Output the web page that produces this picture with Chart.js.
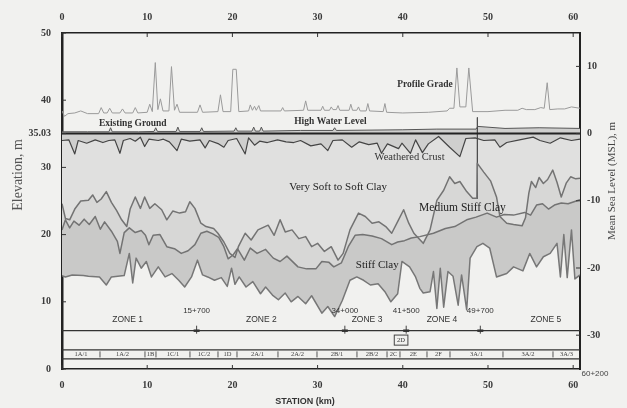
<!DOCTYPE html>
<html lang="en">
<head>
<meta charset="UTF-8">
<title>Soil Profile Along Station</title>
<script src="https://cdn.jsdelivr.net/npm/chart.js"></script>
<style>
  body { margin: 0; background: #f1f1ef; }
  canvas { display: block; }
</style>
</head>
<body>
<canvas id="profileChart" width="627" height="408"></canvas>
<script>
// axis ticks
const stationTicks = [0, 10, 20, 30, 40, 50, 60];
const elevTicks = [0, 10, 20, 30, 35.03, 40, 50];
const mslTicks = [-30, -20, -10, 0, 10];
const mslDatum = 35.03;   // elevation of MSL 0 = high water level

// station (km) / elevation (m)
const profileKm = [0, 0.3, 0.7, 1.5, 2.2, 3.0, 4.3, 4.6, 4.9, 5.3, 5.6, 5.9, 6.8, 7.1, 7.4, 8.3, 8.6, 8.9, 10.0, 10.3, 10.6, 10.95, 11.25, 11.55, 11.85, 12.55, 12.85, 13.2, 13.5, 13.8, 15.9, 16.2, 16.5, 18.3, 18.6, 18.9, 19.8, 20.05, 20.45, 20.75, 21.9, 22.1, 22.35, 22.6, 22.8, 23.1, 23.3, 25.7, 25.9, 26.1, 28.35, 28.6, 28.85, 30.4, 30.6, 30.8, 31.4, 31.6, 31.8, 32.2, 32.4, 32.6, 33.7, 33.9, 34.1, 34.6, 34.8, 35.0, 35.7, 35.9, 36.1, 37.7, 37.9, 38.1, 40, 43, 45.2, 45.5, 46.0, 46.35, 46.7, 47.4, 47.75, 48.2, 50, 52, 53.5, 54.0, 54.5, 55.5, 56.2, 56.6, 56.95, 57.25, 58.2, 59, 59.8, 60.8];
const profileElev = [38.4, 37.6, 38.0, 38.1, 38.4, 38.0, 38.0, 38.9, 38.1, 38.1, 38.8, 38.1, 38.1, 38.7, 38.1, 38.1, 38.9, 38.1, 38.2, 39.4, 38.3, 45.6, 38.6, 40.2, 38.4, 38.4, 45.0, 38.5, 39.4, 38.2, 38.2, 39.3, 38.2, 38.3, 40.8, 38.3, 38.3, 44.6, 44.6, 38.3, 38.4, 39.3, 38.5, 39.1, 38.5, 39.2, 38.4, 38.4, 38.9, 38.4, 38.5, 39.9, 38.5, 38.5, 39.1, 38.5, 38.5, 39.0, 38.6, 38.6, 39.2, 38.5, 38.5, 39.4, 38.5, 38.5, 39.0, 38.4, 38.4, 39.5, 38.4, 38.3, 39.5, 38.2, 38.1, 38.2, 38.4, 38.8, 38.8, 44.8, 39.0, 39.0, 44.8, 38.3, 38.3, 38.5, 38.5, 38.8, 38.6, 38.6, 38.9, 38.8, 42.6, 38.6, 38.7, 38.7, 39.0, 38.8];

const groundKm = [0, 3, 5.5, 5.7, 5.9, 9, 10.8, 11.0, 11.2, 13.4, 13.6, 13.8, 16.2, 16.4, 16.6, 20.2, 20.4, 20.6, 22.3, 22.5, 22.7, 23.2, 23.4, 23.6, 28, 31.8, 32.0, 32.2, 40, 44, 48.6, 48.8, 52, 56, 60.8];
const groundElev = [35.3, 35.3, 35.3, 35.9, 35.3, 35.3, 35.35, 35.9, 35.35, 35.35, 36.0, 35.35, 35.35, 35.9, 35.35, 35.4, 35.9, 35.4, 35.4, 36.0, 35.4, 35.4, 36.0, 35.4, 35.5, 35.5, 35.9, 35.5, 35.6, 35.7, 35.7, 36.1, 35.8, 35.9, 35.8];

const crustKm = [0, 0.8, 1.5, 1.9, 2.9, 3.9, 4.8, 5.5, 6.2, 6.8, 7.2, 8.0, 8.6, 9.2, 9.7, 10.2, 11.3, 11.9, 12.6, 13.5, 14.0, 15.0, 16.2, 16.8, 17.3, 18.4, 19.0, 19.5, 20.5, 21.5, 21.9, 22.6, 23.2, 24.1, 25.3, 26.3, 27.2, 28.0, 29.2, 30.4, 31.2, 31.8, 32.9, 34.0, 34.9, 36.0, 37.0, 37.5, 38.2, 39.5, 39.9, 40.9, 41.5, 42.3, 43.0, 44.2, 45.5, 46.7, 47.4, 48.5, 49.5, 50.8, 51.4, 52.2, 53.7, 55.3, 56.1, 57.3, 58.5, 59.8, 60.8];
const crustElev = [34.0, 34.1, 32.0, 34.0, 33.6, 34.1, 33.7, 34.0, 34.1, 32.1, 34.0, 34.3, 33.9, 34.5, 33.1, 34.2, 34.0, 34.2, 33.8, 32.5, 34.2, 33.9, 34.1, 32.9, 34.0, 33.5, 33.0, 34.0, 34.3, 32.0, 34.4, 33.3, 33.9, 33.7, 34.1, 33.8, 33.7, 34.0, 33.2, 33.5, 32.5, 34.0, 34.1, 33.0, 33.8, 33.4, 33.6, 32.1, 33.5, 32.8, 33.6, 32.1, 34.1, 32.2, 33.5, 34.6, 33.0, 31.6, 34.3, 34.4, 34.0, 34.1, 33.0, 33.7, 34.1, 34.5, 34.0, 33.6, 34.4, 34.0, 34.2];

// top of medium stiff clay
const topKm = [0, 0.4, 0.9, 1.5, 2.2, 3.1, 3.6, 4.1, 4.6, 5.2, 5.8, 6.4, 7.0, 7.6, 8.0, 8.6, 9.2, 9.7, 10.3, 10.9, 11.7, 12.3, 13.0, 13.8, 14.5, 15.0, 15.6, 16.3, 16.9, 17.8, 18.3, 19.0, 19.7, 20.3, 20.7, 21.5, 22.2, 23.0, 24.2, 24.9, 25.6, 26.2, 27.0, 27.8, 28.6, 29.3, 30.0, 30.8, 31.6, 32.4, 33.0, 33.8, 34.8, 35.6, 36.4, 37.2, 38.0, 38.7, 39.5, 40.1, 40.7, 41.3, 42.4, 43.2, 44.0, 44.8, 45.5, 46.1, 46.7, 47.5, 48.2, 48.7, 48.75, 49.5, 50.3, 51.0, 51.4, 52.2, 53.0, 54.0, 54.4, 54.8, 55.1, 55.6, 56.0, 56.5, 57.0, 57.6, 58.1, 58.6, 59.2, 59.7, 60.3, 60.8];
const topElev = [24.6, 22.4, 22.2, 23.8, 25.0, 25.1, 25.9, 24.8, 25.3, 26.4, 24.8, 23.6, 22.2, 21.2, 23.8, 25.6, 23.9, 25.6, 23.9, 24.6, 23.7, 22.2, 23.5, 23.2, 23.4, 24.9, 23.9, 21.7, 21.2, 20.9, 20.2, 18.9, 17.2, 16.6, 18.2, 20.2, 19.2, 20.7, 21.4, 19.9, 22.2, 20.4, 20.7, 19.4, 19.7, 18.2, 18.7, 17.5, 18.2, 16.2, 17.2, 20.7, 23.2, 22.7, 21.7, 21.9, 21.2, 20.2, 22.2, 23.7, 21.7, 20.2, 18.7, 20.7, 25.1, 26.6, 28.6, 27.6, 27.9, 26.4, 25.4, 25.4, 30.6, 29.3, 28.0, 25.6, 22.7, 21.7, 21.5, 21.3, 22.5, 26.2, 27.9, 27.0, 28.5, 27.6, 28.2, 29.6, 27.8, 25.6, 27.7, 28.6, 28.3, 28.4];

// top of stiff clay
const midKm = [0, 0.4, 0.9, 1.4, 2.0, 2.6, 3.2, 3.9, 4.5, 5.0, 5.8, 6.5, 6.8, 7.3, 7.9, 8.6, 9.3, 9.8, 10.2, 10.7, 11.5, 12.3, 13.2, 14.0, 14.8, 15.6, 16.3, 17.0, 17.7, 18.4, 19.0, 19.5, 20.1, 20.6, 21.4, 22.1, 22.9, 23.9, 24.8, 25.6, 26.4, 27.7, 28.7, 29.8, 30.5, 31.3, 31.9, 32.8, 33.6, 34.4, 35.3, 36.4, 37.5, 38.7, 39.4, 40.2, 41.0, 42.0, 43.6, 45.0, 46.1, 47.5, 48.6, 49.9, 51.0, 51.9, 53.0, 54.3, 55.0, 55.7, 56.4, 57.1, 57.8, 58.6, 59.4, 60.1, 60.8];
const midElev = [20.7, 22.2, 21.0, 22.0, 21.4, 22.3, 21.5, 22.7, 20.8, 21.9, 20.5, 19.0, 17.2, 20.3, 21.0, 20.3, 20.6, 19.9, 18.5, 19.9, 20.0, 18.2, 17.9, 17.2, 17.6, 18.5, 20.2, 20.5, 20.1, 19.6, 18.2, 16.4, 17.0, 17.9, 16.2, 18.0, 17.2, 17.8, 16.5, 16.0, 16.8, 15.2, 14.9, 14.9, 16.0, 15.9, 15.2, 15.8, 18.2, 19.9, 20.0, 19.8, 19.4, 18.5, 18.9, 19.1, 19.5, 19.7, 20.2, 20.9, 21.2, 22.2, 22.6, 23.2, 22.6, 23.0, 22.9, 23.3, 22.9, 24.4, 24.6, 23.8, 24.4, 24.7, 24.6, 24.9, 25.2];

// bottom of stiff clay
const botKm = [0, 0.4, 1.2, 2.5, 3.1, 4.4, 5.2, 5.8, 7.3, 7.9, 8.3, 8.7, 9.3, 9.9, 10.5, 11.3, 12.1, 12.9, 13.7, 14.4, 15.2, 15.9, 16.5, 17.1, 17.9, 18.7, 19.4, 19.9, 20.3, 20.8, 21.6, 22.4, 23.3, 23.9, 24.7, 25.4, 26.2, 26.9, 27.7, 28.6, 29.3, 30.5, 31.2, 32.0, 32.9, 33.8, 34.6, 35.4, 36.2, 37.1, 37.9, 38.6, 39.4, 39.9, 40.8, 41.5, 42.0, 42.4, 43.2, 43.6, 44.0, 44.4, 44.8, 45.3, 45.9, 46.5, 46.9, 47.5, 47.9, 48.7, 49.4, 50.2, 51.0, 52.2, 53.0, 54.1, 54.9, 55.7, 56.5, 57.3, 58.1, 58.5, 58.9, 59.3, 59.8, 60.2, 60.8];
const botElev = [13.9, 13.7, 14.0, 13.9, 13.8, 13.7, 12.5, 13.7, 13.9, 17.2, 12.8, 16.5, 15.0, 16.0, 13.7, 15.2, 13.7, 14.2, 13.2, 12.2, 13.7, 16.2, 14.0, 13.7, 13.2, 13.6, 12.3, 15.0, 12.6, 13.7, 12.2, 13.0, 11.2, 12.2, 11.0, 10.3, 11.3, 10.0, 10.8, 9.7, 10.9, 8.3, 9.3, 7.8, 10.2, 13.2, 13.7, 13.2, 12.5, 12.7, 11.5, 10.0, 11.2, 16.0, 15.2, 13.7, 12.0, 11.3, 11.5, 14.5, 9.0, 15.0, 9.2, 14.5, 13.8, 9.5, 14.0, 8.8, 16.5, 18.2, 18.7, 18.0, 13.7, 14.2, 15.2, 14.6, 17.2, 15.2, 16.7, 17.2, 18.7, 13.7, 20.0, 13.6, 20.7, 13.4, 14.0];

const boreKm = [48.75, 48.75];
const boreElev = [37.4, 25.4];
const hwlKm = [0, 60.8];
const hwlElev = [35.03, 35.03];

// zones and design units
const zoneLineElev = 5.7;
const zoneNames = ['ZONE 1', 'ZONE 2', 'ZONE 3', 'ZONE 4', 'ZONE 5'];
const zoneBreakLabels = ['15+700', '34+000', '41+500', '49+700'];
const zoneBreakKm = [15.8, 33.2, 40.4, 49.1];
const unitNames = ['1A/1', '1A/2', '1B', '1C/1', '1C/2', '1D', '2A/1', '2A/2', '2B/1', '2B/2', '2C', '2E', '2F', '3A/1', '3A/2', '3A/3'];
const unitBreakKm = [4.46, 9.74, 11.03, 15.02, 18.31, 20.54, 25.35, 29.93, 34.62, 38.15, 39.67, 42.84, 45.54, 51.76, 57.63];
const rowTopElev = 2.85;
const rowBottomElev = 1.5;

const pts = (xs, ys) => xs.map((v, i) => ({ x: v, y: ys[i] }));

function series(label, xs, ys, color, width, fillTarget, fillColor) {
  return {
    label,
    data: pts(xs, ys),
    xAxisID: 'x',
    yAxisID: 'y',
    borderColor: color,
    borderWidth: width,
    borderJoinStyle: 'round',
    pointRadius: 0,
    tension: 0,
    backgroundColor: fillColor || 'transparent',
    fill: fillTarget === undefined ? false : { target: fillTarget, above: fillColor, below: fillColor }
  };
}

const overlay = {
  id: 'overlay',
  afterDraw(chart) {
    const { ctx, chartArea: area, scales } = chart;
    const X = v => scales.x.getPixelForValue(v);
    const Y = v => scales.y.getPixelForValue(v);
    const seg = (x1, y1, x2, y2, color, w) => {
      ctx.beginPath(); ctx.strokeStyle = color; ctx.lineWidth = w;
      ctx.moveTo(x1, y1); ctx.lineTo(x2, y2); ctx.stroke();
    };
    const label = (t, x, y, font, color, rot) => {
      ctx.save();
      ctx.translate(x, y);
      if (rot) ctx.rotate(rot);
      ctx.font = font; ctx.fillStyle = color;
      ctx.textAlign = 'center'; ctx.textBaseline = 'middle';
      ctx.fillText(t, 0, 0);
      ctx.restore();
    };
    ctx.save();

    // inward tick marks
    stationTicks.forEach(t => {
      seg(X(t), area.top, X(t), area.top + 4, '#333', 1);
      seg(X(t), area.bottom, X(t), area.bottom - 4, '#333', 1);
    });
    elevTicks.forEach(t => seg(area.left, Y(t), area.left + 4, Y(t), '#333', 1));
    mslTicks.forEach(t => seg(area.right, Y(t + mslDatum), area.right - 4, Y(t + mslDatum), '#333', 1));

    // layer names
    const serif = 'Liberation Serif';
    label('Profile Grade', X(42.6), Y(42.3), 'bold 9.5px ' + serif, '#333');
    label('Existing Ground', X(8.3), Y(36.6), 'bold 9.5px ' + serif, '#333');
    label('High Water Level', X(31.5), Y(36.8), 'bold 9.5px ' + serif, '#333');
    label('Weathered Crust', X(40.8), Y(31.5), '10.5px ' + serif, '#333');
    label('Very Soft to Soft Clay', X(32.4), Y(27.1), '11px ' + serif, '#222');
    label('Medium Stiff Clay', X(47.0), Y(24.0), '11.5px ' + serif, '#222');
    label('Stiff Clay', X(37.0), Y(15.5), '11px ' + serif, '#222');

    // zone line with chainage markers
    const zy = Y(zoneLineElev);
    seg(area.left, zy, area.right, zy, '#333', 1.2);
    const sans = 'Liberation Sans';
    zoneBreakKm.forEach((k, i) => {
      seg(X(k), zy - 5, X(k), zy + 3, '#444', 1);
      seg(X(k) - 3, zy, X(k) + 3, zy, '#333', 2.5);
      label(zoneBreakLabels[i], X(k), zy - 20, '8px ' + sans, '#333');
    });
    const zoneNameKm = [7.7, 23.4, 35.8, 44.6, 56.8];
    zoneNames.forEach((n, i) => label(n, X(zoneNameKm[i]), zy - 11, '8.5px ' + sans, '#333'));

    // 2D unit box
    ctx.strokeStyle = '#444'; ctx.lineWidth = 1;
    ctx.strokeRect(X(39.0), Y(5.05), X(40.6) - X(39.0), Y(3.55) - Y(5.05));
    label('2D', X(39.8), Y(4.3), '6.5px ' + serif, '#333');

    // design unit row
    const ty = Y(rowTopElev), by = Y(rowBottomElev);
    seg(area.left, ty, area.right, ty, '#333', 1.2);
    seg(area.left, by, area.right, by, '#333', 1.2);
    unitBreakKm.forEach(k => seg(X(k), ty + 1.5, X(k), by - 1.5, '#555', 1));
    const edges = [0, ...unitBreakKm, 60.8];
    unitNames.forEach((n, i) => label(n, X((edges[i] + edges[i + 1]) / 2), (ty + by) / 2, '6.5px ' + serif, '#444'));

    // axis titles
    label('Elevation, m', 18, 175, '14px ' + serif, '#555', -Math.PI / 2);
    label('Mean Sea Level (MSL), m', 612, 181, '11px ' + serif, '#444', -Math.PI / 2);
    label('STATION (km)', 305, 402, 'bold 9px ' + sans, '#333');
    label('60+200', 595, 374, '8px ' + sans, '#444');

    ctx.restore();
  }
};

const tickFont = { family: 'Liberation Serif', size: 10, weight: 'bold' };
const fmt = v => String(v);

new Chart(document.getElementById('profileChart'), {
  type: 'line',
  data: {
    datasets: [
      series('Profile Grade', profileKm, profileElev, '#9a9a9a', 1),
      series('Existing Ground', groundKm, groundElev, '#555', 1, 2, '#cfcfce'),
      series('Weathered Crust', crustKm, crustElev, '#444', 1.2, 3, '#e0e0df'),
      series('Medium Stiff Clay', topKm, topElev, '#737373', 1.5, 4, '#d7d7d6'),
      series('Stiff Clay', midKm, midElev, '#737373', 1.5, 5, '#c9c9c8'),
      series('Stiff Clay Base', botKm, botElev, '#777', 1.5),
      series('High Water Level', hwlKm, hwlElev, '#222', 2),
      series('Borehole', boreKm, boreElev, '#444', 1.2)
    ]
  },
  options: {
    responsive: false,
    animation: false,
    layout: { padding: 0 },
    plugins: {
      legend: { display: false },
      tooltip: { enabled: false },
      filler: { drawTime: 'beforeDatasetsDraw' }
    },
    scales: {
      x: {
        type: 'linear', axis: 'x', position: 'bottom', min: 0, max: 60.8,
        afterBuildTicks: s => { s.ticks = stationTicks.map(v => ({ value: v })); },
        afterFit: s => { s.height = 39; },
        grid: { display: false, drawTicks: false },
        border: { display: true, color: '#222', width: 1.5 },
        ticks: { font: tickFont, color: '#3a3a3a', padding: 10, maxRotation: 0, callback: fmt }
      },
      xTop: {
        type: 'linear', axis: 'x', position: 'top', min: 0, max: 60.8,
        afterBuildTicks: s => { s.ticks = stationTicks.map(v => ({ value: v })); },
        afterFit: s => { s.height = 33; },
        grid: { display: false, drawTicks: false },
        border: { display: true, color: '#222', width: 1.5 },
        ticks: { font: tickFont, color: '#3a3a3a', padding: 10, maxRotation: 0, callback: fmt }
      },
      y: {
        type: 'linear', axis: 'y', position: 'left', min: 0, max: 50,
        afterBuildTicks: s => { s.ticks = elevTicks.map(v => ({ value: v })); },
        afterFit: s => { s.width = 62; },
        grid: { display: false, drawTicks: false },
        border: { display: true, color: '#222', width: 2.5 },
        ticks: { font: tickFont, color: '#3a3a3a', padding: 11, callback: fmt }
      },
      y2: {
        type: 'linear', axis: 'y', position: 'right', min: -mslDatum, max: 50 - mslDatum,
        afterBuildTicks: s => { s.ticks = mslTicks.map(v => ({ value: v })); },
        afterFit: s => { s.width = 47; },
        grid: { display: false, drawTicks: false },
        border: { display: true, color: '#222', width: 2 },
        ticks: { font: tickFont, color: '#3a3a3a', padding: 7, callback: fmt }
      }
    }
  },
  plugins: [overlay]
});
</script>
</body>
</html>
